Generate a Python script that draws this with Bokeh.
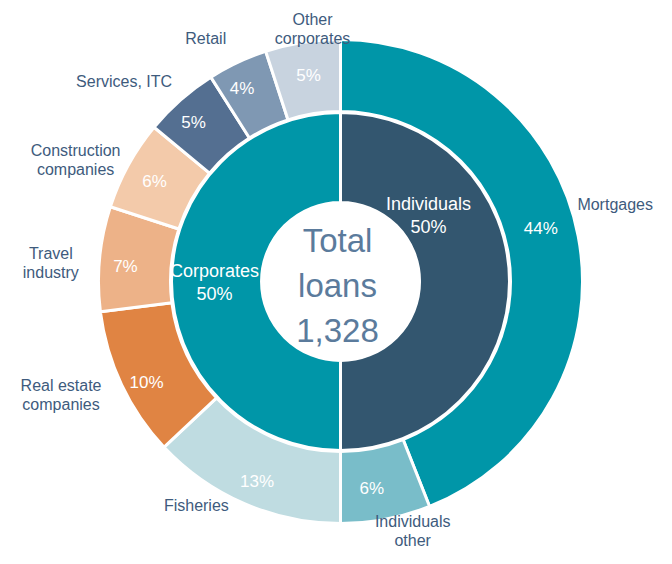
import numpy as np
from bokeh.plotting import figure
from bokeh.models import Range1d, ColumnDataSource
from bokeh.core.properties import value
from bokeh.embed import file_html
from bokeh.resources import INLINE

# ---- data ----
inner_labels = ["Individuals", "Corporates"]
inner_values = [50, 50]
inner_colors = ["#33566F", "#0096A8"]

outer_labels = ["Mortgages", "Individuals\nother", "Fisheries", "Real estate\ncompanies",
                "Travel\nindustry", "Construction\ncompanies", "Services, ITC", "Retail",
                "Other\ncorporates"]
outer_values = [44, 6, 13, 10, 7, 6, 5, 4, 5]
outer_colors = ["#0096A8", "#79BDC9", "#BFDCE1", "#E08443", "#EDB288", "#F3CAAA",
                "#546F91", "#7F98B3", "#C8D3DF"]

total_lines = ["Total", "loans", "1,328"]

FONT = value("Liberation Sans")


def wedges(vals):
    v = np.array(vals, dtype=float)
    frac = v / v.sum()
    cum = np.concatenate([[0], np.cumsum(frac)[:-1]])
    start = np.pi / 2 - 2 * np.pi * (cum + frac)
    end = np.pi / 2 - 2 * np.pi * cum
    mid = 2 * np.pi * (cum + frac / 2)  # clockwise from top
    return start, end, mid


p = figure(width=656, height=548, x_range=Range1d(-340, 316), y_range=Range1d(-267, 281),
           output_backend="svg", toolbar_location=None, min_border=0)
p.axis.visible = False
p.grid.visible = False
p.outline_line_color = None
p.background_fill_color = "white"

# inner ring
s_i, e_i, m_i = wedges(inner_values)
src_i = ColumnDataSource(dict(start=s_i, end=e_i, color=inner_colors))
p.annular_wedge(x=0, y=0, inner_radius=79, outer_radius=169, start_angle="start",
                end_angle="end", color="color", line_color="white", line_width=3,
                source=src_i)

# outer ring
s_o, e_o, m_o = wedges(outer_values)
src_o = ColumnDataSource(dict(start=s_o, end=e_o, color=outer_colors))
p.annular_wedge(x=0, y=0, inner_radius=170, outer_radius=242, start_angle="start",
                end_angle="end", color="color", line_color="white", line_width=3,
                source=src_o)

# outer percentage labels
r_pct = 210
pct_src = ColumnDataSource(dict(
    x=r_pct * np.sin(m_o), y=r_pct * np.cos(m_o),
    t=[f"{v}%" for v in outer_values],
    xo=[-6, -8, 0, -4, -6, -2, -8, -9, 1],
    yo=[-14, 1, 7, 12, 5, 1, -1, -3, 1]))
p.text(x="x", y="y", text="t", source=pct_src, x_offset="xo", y_offset="yo",
       text_color="white", text_font=FONT,
       text_font_size="17px", text_align="center", text_baseline="middle")

# outer category labels
rx, ry = 300, 262
cat_src = ColumnDataSource(dict(
    x=rx * np.sin(m_o), y=ry * np.cos(m_o), t=outer_labels,
    xo=[-20, 16, -25, -8, 9, -2, -18, -7, 19],
    yo=[-28, -8, -16, 2, 6, 5, -3, -6, 6]))
p.text(x="x", y="y", text="t", source=cat_src, x_offset="xo", y_offset="yo",
       text_color="#3E5B7D", text_font=FONT, text_font_size="16px",
       text_align="center", text_baseline="middle", text_line_height=1.1)

# inner labels
r_in = 124
in_src = ColumnDataSource(dict(
    x=r_in * np.sin(m_i), y=r_in * np.cos(m_i),
    t=[f"{l}\n{v}%" for l, v in zip(inner_labels, inner_values)],
    xo=[-36, -2], yo=[-66, 1]))
p.text(x="x", y="y", text="t", source=in_src, x_offset="xo", y_offset="yo",
       text_color="white", text_font=FONT, text_font_size="18px",
       text_align="center", text_baseline="middle", text_line_height=1.15)

# centre text
p.text(x=[-3, -3, -3], y=[41, -4, -49], text=total_lines, text_color="#5B7B9C",
       text_font=FONT, text_font_size="33px", text_align="center",
       text_baseline="middle")

open("out.html", "w").write(file_html(p, INLINE))
